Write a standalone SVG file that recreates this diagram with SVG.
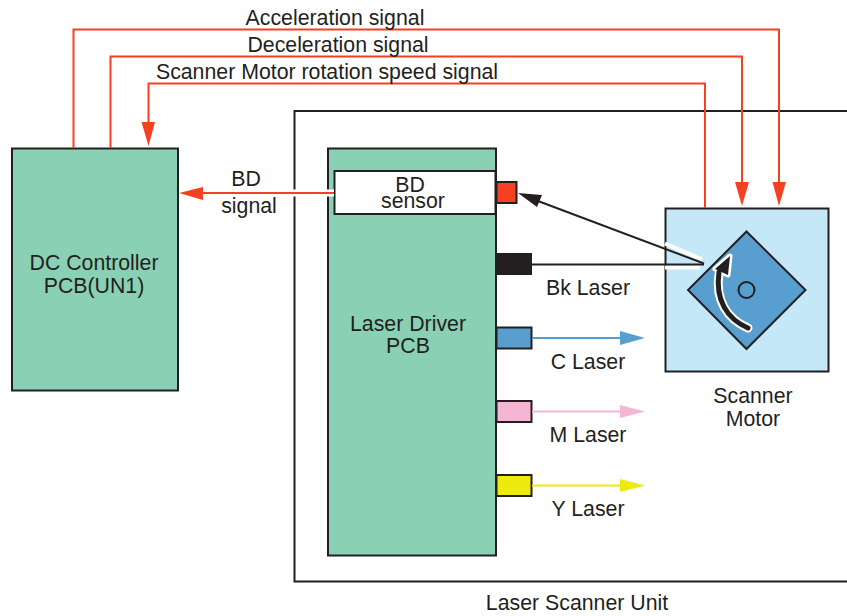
<svg xmlns="http://www.w3.org/2000/svg" width="847" height="616" viewBox="0 0 847 616">
<style>
text{font-family:"Liberation Sans",Arial,sans-serif;font-size:21.300px;fill:#231f20;text-anchor:middle}
.box{stroke:#231f20;stroke-width:2}
.pcb{fill:#8ad0b4}
.sig{fill:none;stroke:#f44123;stroke-width:2}
</style>
<rect width="847" height="616" fill="#fff"/>
<g id="laser-scanner-unit">
<path d="M847 111H294.500V581.500H847" fill="none" stroke="#231f20" stroke-width="2"/>
<text x="577" y="610">Laser Scanner Unit</text>
</g>
<g id="dc-controller">
<rect class="box pcb" x="12" y="148.500" width="166" height="242"/>
<text x="94" y="270">DC Controller</text>
<text x="94" y="293">PCB(UN1)</text>
</g>
<g id="laser-driver">
<rect class="box pcb" x="328" y="148.500" width="168" height="407"/>
<text x="408" y="331">Laser Driver</text>
<text x="408" y="353">PCB</text>
</g>
<g id="bd-sensor">
<rect class="box" x="334.500" y="171" width="161" height="43" fill="#fff"/>
<text x="410" y="192">BD</text>
<text x="413" y="208">sensor</text>
</g>
<g id="bd-detector"><rect class="box" x="496.500" y="182" width="20" height="21" fill="#f44123"/></g>
<g id="bk-laser">
<rect x="496" y="253" width="36" height="22" fill="#231f20"/>
<text x="588" y="295">Bk Laser</text>
</g>
<g id="c-laser">
<rect class="box" x="496.500" y="327.500" width="35" height="21" fill="#589fd0"/>
<text x="588" y="369">C Laser</text>
</g>
<g id="m-laser">
<rect class="box" x="496.500" y="401" width="35" height="21" fill="#f5b5d4"/>
<text x="588" y="442">M Laser</text>
</g>
<g id="y-laser">
<rect class="box" x="496.500" y="475" width="35" height="21" fill="#eeea0e"/>
<text x="588" y="516">Y Laser</text>
</g>
<g id="scanner-motor">
<rect class="box" x="665.500" y="208.500" width="163" height="163" fill="#c5e8f9"/>
<path class="box" d="M746.500 231.500L805.500 290L746.500 349L688 290Z" fill="#589fd0"/>
<circle class="box" cx="746.500" cy="290" r="8" fill="#589fd0"/>
<path d="M748 328C727 319 715 300 719 274" fill="none" stroke="#fff" stroke-width="9" stroke-linecap="round"/>
<path d="M730 256L715 269L728 275Z" fill="#fff" stroke="#fff" stroke-width="5" stroke-linejoin="round"/>
<path d="M748 328C727 319 715 300 719 272" fill="none" stroke="#231f20" stroke-width="5" stroke-linecap="round"/>
<path d="M730 256L715 269L728 275Z" fill="#231f20"/>
<text x="753" y="403">Scanner</text>
<text x="753" y="426">Motor</text>
</g>
<g id="connectors">
<path class="sig" d="M73.500 148V29.500H779V183"/>
<path class="sig" d="M110.500 148V56.500H742V183"/>
<path class="sig" d="M705 208V83.500H148.500V125"/>
<path d="M141.500 122H155L148.500 146Z" fill="#f44123"/>
<path d="M735 182H749L742 206Z" fill="#f44123"/>
<path d="M772.500 182H786L779 206Z" fill="#f44123"/>
<path d="M327 193H334M290 193H299" fill="none" stroke="#fff" stroke-width="7"/>
<path class="sig" d="M334 193H200"/>
<path d="M179 193L203 187V200Z" fill="#f44123"/>
<path d="M665 243.500L702 259.500M665 267.500H700" fill="none" stroke="#fff" stroke-width="4"/>
<path d="M532 264.500H704" fill="none" stroke="#231f20" stroke-width="2"/>
<path d="M704 263.500L530 198" fill="none" stroke="#231f20" stroke-width="2"/>
<path d="M518 193L542 195L537 207Z" fill="#231f20"/>
<path d="M532 338H625" fill="none" stroke="#589fd0" stroke-width="2"/>
<path d="M620 331L645 338L620 345Z" fill="#589fd0"/>
<path d="M532 411.500H625" fill="none" stroke="#f5b5d4" stroke-width="2"/>
<path d="M620 405L645 411.500L620 418Z" fill="#f5b5d4"/>
<path d="M532 485.500H625" fill="none" stroke="#eeea0e" stroke-width="2"/>
<path d="M620 479L645 485.500L620 492Z" fill="#eeea0e"/>
</g>
<g id="labels">
<text x="335" y="25">Acceleration signal</text>
<text x="338" y="52">Deceleration signal</text>
<text x="327" y="79">Scanner Motor rotation speed signal</text>
<text x="246" y="186">BD</text>
<text x="249" y="213">signal</text>
</g>
</svg>
